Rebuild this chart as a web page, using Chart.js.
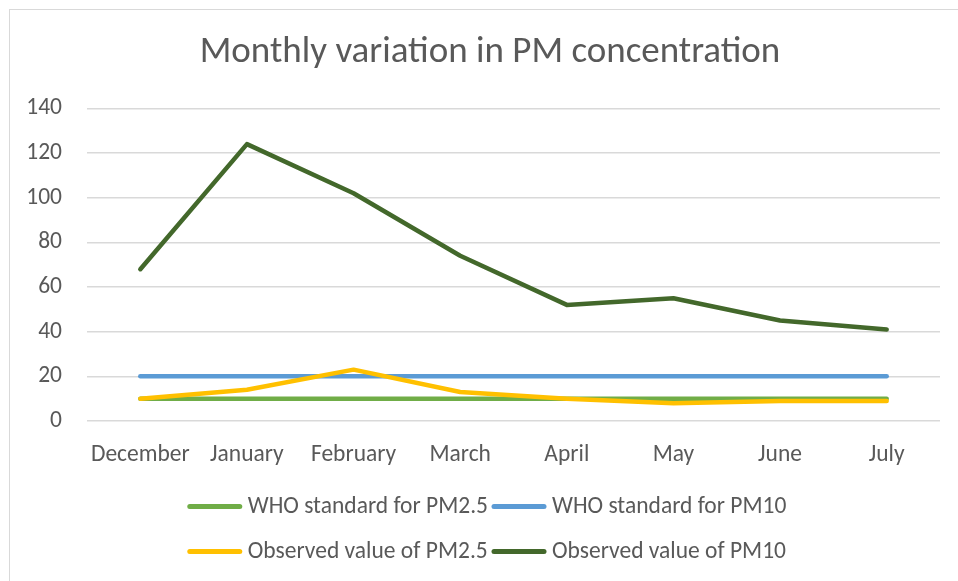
<!DOCTYPE html>
<html>
<head>
<meta charset="utf-8">
<script src="https://cdn.jsdelivr.net/npm/chart.js@4/dist/chart.umd.min.js"></script>
<style>
  body { margin: 0; background: #fff; }
  #wrap { position: relative; width: 958px; height: 581px; }
  #frame { position: absolute; left: 9px; top: 9px; right: -5px; bottom: -5px; border: 1px solid #d9d9d9; }
  canvas { position: absolute; left: 0; top: 0; }
</style>
</head>
<body>
<div id="wrap">
  <div id="frame"></div>
  <canvas id="pmChart"></canvas>
</div>
<script>
// данные
const months = ['December', 'January', 'February', 'March', 'April', 'May', 'June', 'July'];
const whoPm25 = [10, 10, 10, 10, 10, 10, 10, 10];
const whoPm10 = [20, 20, 20, 20, 20, 20, 20, 20];
const obsPm25 = [10, 14, 23, 13, 10, 8, 9, 9];
const obsPm10 = [68, 124, 102, 74, 52, 55, 45, 41];
const yTicks = [0, 20, 40, 60, 80, 100, 120, 140];

const textColor = '#595959';
const fontFamily = "Carlito, Calibri, Lato, 'Noto Sans', sans-serif";

function series(label, data, color, order) {
  return {
    label, data, order,
    borderColor: color,
    backgroundColor: color,
    borderWidth: 4.5,
    borderCapStyle: 'round',
    borderJoinStyle: 'round',
    pointRadius: 0,
    tension: 0,
    fill: false
  };
}

// легенда 2x2 как в Excel
const gridLegend = {
  id: 'gridLegend',
  afterDraw(chart) {
    const ctx = chart.ctx;
    const sets = chart.data.datasets;
    const lineLen = 54, gap = 6, colGap = 4;
    ctx.save();
    ctx.font = '23.5px ' + fontFamily;
    ctx.textBaseline = 'middle';
    ctx.textAlign = 'left';
    let colW = 0;
    sets.forEach(d => { colW = Math.max(colW, ctx.measureText(d.label).width); });
    colW += lineLen + gap + colGap;
    const total = colW * 2 - colGap;
    const tb = chart.titleBlock;
    const x0 = (tb.left + tb.right) / 2 - total / 2;
    const y0 = chart.chartArea.bottom + 85.5;
    sets.forEach((d, i) => {
      const x = x0 + (i % 2) * colW;
      const y = y0 + Math.floor(i / 2) * 45;
      ctx.strokeStyle = d.borderColor;
      ctx.lineWidth = 5;
      ctx.lineCap = 'round';
      ctx.beginPath();
      ctx.moveTo(x + 2, y);
      ctx.lineTo(x + lineLen - 2, y);
      ctx.stroke();
      ctx.fillStyle = textColor;
      ctx.fillText(d.label, x + lineLen + gap, y + 1);
    });
    ctx.restore();
  }
};

new Chart(document.getElementById('pmChart'), {
  type: 'line',
  data: {
    labels: months,
    datasets: [
      series('WHO standard for PM2.5', whoPm25, '#70ad47', 4),
      series('WHO standard for PM10', whoPm10, '#5b9bd5', 3),
      series('Observed value of PM2.5', obsPm25, '#ffc000', 2),
      series('Observed value of PM10', obsPm10, '#43682b', 1)
    ]
  },
  options: {
    responsive: true,
    maintainAspectRatio: false,
    animation: false,
    layout: { padding: { left: 22, right: 0, top: 0, bottom: 110 } },
    plugins: {
      legend: { display: false },
      tooltip: { enabled: false },
      title: {
        display: true,
        text: 'Monthly variation in PM concentration',
        color: textColor,
        font: { family: fontFamily, size: 37, weight: '300' },
        padding: { top: 31, bottom: 33 }
      }
    },
    scales: {
      x: {
        offset: true,
        grid: { display: false, drawTicks: false },
        border: { display: false },
        ticks: { color: textColor, font: { family: fontFamily, size: 23.5 }, padding: 20, maxRotation: 0 },
        afterFit(scale) { scale.height = 50; }
      },
      y: {
        min: yTicks[0],
        max: yTicks[yTicks.length - 1],
        afterBuildTicks(scale) { scale.ticks = yTicks.map(v => ({ value: v })); },
        grid: { color: '#d9d9d9', lineWidth: 1.5, drawTicks: false },
        border: { display: false },
        ticks: { color: textColor, font: { family: fontFamily, size: 23.5 }, padding: 25 },
        afterFit(scale) { scale.width = 65; }
      },
      // пустая ось справа — только отступ
      yRight: {
        position: 'right',
        grid: { display: false, drawTicks: false },
        border: { display: false },
        ticks: { display: false },
        afterFit(scale) { scale.width = 18; }
      }
    }
  },
  plugins: [gridLegend]
});
</script>
</body>
</html>
